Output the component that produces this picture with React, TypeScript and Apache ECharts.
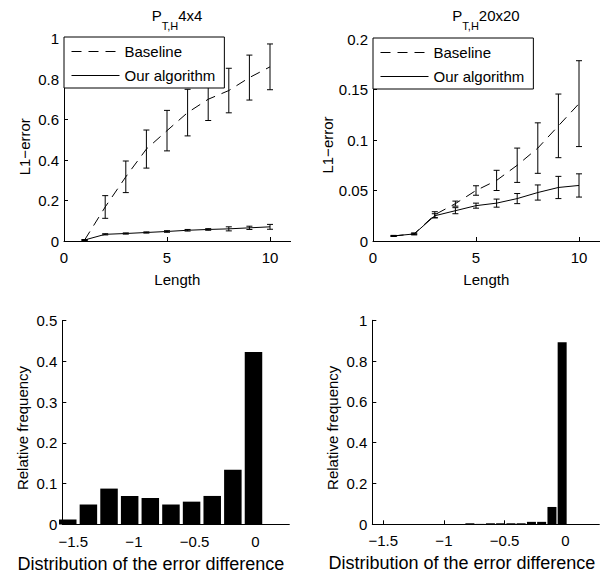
import React, { useEffect, useRef } from 'react';
import * as echarts from 'echarts';

// ---- data ----
const lengths = [1, 2, 3, 4, 5, 6, 7, 8, 9, 10];

const baseline4 = [0.005, 0.168, 0.317, 0.454, 0.545, 0.634, 0.7, 0.743, 0.807, 0.86];
const baseline4Err = [0.002, 0.056, 0.078, 0.094, 0.1, 0.115, 0.105, 0.11, 0.111, 0.113];
const ours4 = [0.005, 0.033, 0.037, 0.042, 0.047, 0.053, 0.057, 0.06, 0.065, 0.07];
const ours4Err = [0.002, 0.003, 0.003, 0.003, 0.004, 0.004, 0.004, 0.01, 0.008, 0.012];

const baseline20 = [0.005, 0.007, 0.026, 0.037, 0.05, 0.06, 0.075, 0.092, 0.114, 0.136];
const baseline20Err = [0.0005, 0.0008, 0.003, 0.0025, 0.0047, 0.01, 0.017, 0.025, 0.0315, 0.0425];
const ours20 = [0.005, 0.007, 0.025, 0.03, 0.035, 0.0375, 0.042, 0.048, 0.053, 0.055];
const ours20Err = [0.0005, 0.0008, 0.002, 0.003, 0.0025, 0.004, 0.005, 0.0075, 0.011, 0.0115];

const bins4 = [-1.545, -1.375, -1.205, -1.035, -0.865, -0.695, -0.525, -0.355, -0.185, -0.015];
const freq4 = [0.012, 0.049, 0.088, 0.07, 0.065, 0.049, 0.056, 0.07, 0.134, 0.423];

const bins20 = [-0.786, -0.702, -0.617, -0.533, -0.448, -0.364, -0.279, -0.195, -0.11, -0.026];
const freq20 = [0.005, 0.002, 0.005, 0.005, 0.005, 0.005, 0.012, 0.012, 0.085, 0.892];

const lengthTicks = [0, 5, 10];
const diffTicks = [-1.5, -1, -0.5, 0];

const FONT = 'Liberation Sans, Arial, Helvetica, sans-serif';
const BLACK = '#000';

const pairs = (xs: number[], ys: number[]) => xs.map((x, i) => [x, ys[i]]);
const errData = (xs: number[], ys: number[], es: number[]) =>
  xs.map((x, i) => [x, ys[i] - es[i], ys[i] + es[i]]);

const errRender = (params: any, api: any) => {
  const x = api.value(0);
  const lo = api.coord([x, api.value(1)]);
  const hi = api.coord([x, api.value(2)]);
  const c = 3;
  const style = { stroke: BLACK, lineWidth: 1, fill: 'none' };
  return {
    type: 'group',
    children: [
      { type: 'line', shape: { x1: lo[0], y1: lo[1], x2: hi[0], y2: hi[1] }, style },
      { type: 'line', shape: { x1: lo[0] - c, y1: lo[1], x2: lo[0] + c, y2: lo[1] }, style },
      { type: 'line', shape: { x1: hi[0] - c, y1: hi[1], x2: hi[0] + c, y2: hi[1] }, style },
    ],
  };
};

const minusFmt = (v: number) => (v < 0 ? '\u2212' + String(Math.abs(v)) : String(v));

const labelStyle = { color: BLACK, fontFamily: FONT, fontSize: 15 };
const nameStyle = { color: BLACK, fontFamily: FONT, fontSize: 15 };

function lenXAxis(grid: number) {
  return {
    type: 'value', gridIndex: grid, min: 0, max: 11,
    name: 'Length', nameLocation: 'middle', nameGap: 31,
    nameTextStyle: { ...nameStyle },
    axisLine: { onZero: false, lineStyle: { color: BLACK, width: 1 } },
    axisTick: { inside: true, length: 4, lineStyle: { color: BLACK }, customValues: lengthTicks },
    axisLabel: { ...labelStyle, margin: 9, customValues: lengthTicks },
    splitLine: { show: false },
  };
}

function diffXAxis(grid: number, shift: number) {
  return {
    type: 'value', gridIndex: grid, min: -1.59, max: 0.28,
    name: 'Distribution of the error difference', nameLocation: 'middle', nameGap: 30,
    nameTextStyle: { ...nameStyle, fontSize: 18, padding: [0, shift, 0, 0] },
    axisLine: { onZero: false, lineStyle: { color: BLACK, width: 1 } },
    axisTick: { inside: true, length: 4, lineStyle: { color: BLACK }, customValues: diffTicks },
    axisLabel: { ...labelStyle, margin: 9, customValues: diffTicks, formatter: minusFmt },
    splitLine: { show: false },
  };
}

function yAxis(grid: number, max: number, interval: number, name: string, shift: number) {
  return {
    type: 'value', gridIndex: grid, min: 0, max, interval,
    name, nameLocation: 'middle', nameGap: 32,
    nameTextStyle: { ...nameStyle, padding: [0, shift, 0, 0] },
    axisLine: { show: true, onZero: false, lineStyle: { color: BLACK, width: 1 } },
    axisTick: { show: true, inside: true, length: 4, lineStyle: { color: BLACK } },
    axisLabel: { ...labelStyle, margin: 5 },
    splitLine: { show: false },
  };
}

function lineSeries(name: string, xi: number, ys: number[], dashed: boolean) {
  return {
    type: 'line', name, xAxisIndex: xi, yAxisIndex: xi,
    data: pairs(lengths, ys), symbol: 'none',
    lineStyle: { color: BLACK, width: 1, type: dashed ? [10, 7] : 'solid' },
    itemStyle: { color: BLACK },
    z: 3,
  };
}

function errSeries(xi: number, ys: number[], es: number[]) {
  return {
    type: 'custom', xAxisIndex: xi, yAxisIndex: xi,
    data: errData(lengths, ys, es), renderItem: errRender,
    encode: { x: 0, y: [1, 2] }, z: 3, silent: true,
  };
}

function legend(left: number, top: number) {
  return {
    show: true, orient: 'vertical', left, top,
    backgroundColor: '#fff', borderColor: BLACK, borderWidth: 1, borderRadius: 0,
    padding: [7, 9, 5, 7], itemGap: 9, itemWidth: 48, itemHeight: 17,
    textStyle: { color: BLACK, fontFamily: FONT, fontSize: 15 },
    itemStyle: { color: 'rgba(0,0,0,0)', borderWidth: 0, opacity: 0 },
    lineStyle: { width: 1, color: BLACK },
    data: ['Baseline', 'Our algorithm'],
    selectedMode: false, z: 10,
  };
}

function title(cx: number, suffix: string) {
  return {
    type: 'text', x: cx, y: 7.5, z: 10,
    style: {
      text: '{p|P}{s|T,H}{p|' + suffix + '}',
      align: 'center', verticalAlign: 'top',
      rich: {
        p: { fontFamily: FONT, fontSize: 15, fill: BLACK, color: BLACK, lineHeight: 16, verticalAlign: 'top' },
        s: { fontFamily: FONT, fontSize: 11, fill: BLACK, color: BLACK, lineHeight: 36 },
      },
    },
  };
}

export default function App() {
  const ref = useRef<HTMLDivElement>(null);
  useEffect(() => {
    if (!ref.current) return;
    const chart = echarts.init(ref.current, null, { renderer: 'svg' });
    chart.setOption({
      animation: false,
      backgroundColor: '#fff',
      textStyle: { fontFamily: FONT },
      grid: [
        { left: 64, top: 38.5, width: 226.6, height: 202.5, outerBoundsMode: 'none' },
        { left: 373, top: 39, width: 226.6, height: 202, outerBoundsMode: 'none' },
        { left: 62.3, top: 320.5, width: 227, height: 204, outerBoundsMode: 'none' },
        { left: 372.3, top: 320.3, width: 227, height: 204, outerBoundsMode: 'none' },
      ],
      xAxis: [lenXAxis(0), lenXAxis(1), diffXAxis(2, 50), diffXAxis(3, 48)],
      yAxis: [
        yAxis(0, 1, 0.2, 'L1\u2212error', 14),
        yAxis(1, 0.2, 0.05, 'L1\u2212error', 10),
        yAxis(2, 0.5, 0.1, 'Relative frequency', 11),
        yAxis(3, 1, 0.2, 'Relative frequency', 11),
      ],
      legend: [legend(64, 37), legend(373, 38)],
      graphic: [title(177, '4x4'), title(486, '20x20')],
      series: [
        lineSeries('Baseline', 0, baseline4, true),
        lineSeries('Our algorithm', 0, ours4, false),
        errSeries(0, baseline4, baseline4Err),
        errSeries(0, ours4, ours4Err),
        lineSeries('Baseline', 1, baseline20, true),
        lineSeries('Our algorithm', 1, ours20, false),
        errSeries(1, baseline20, baseline20Err),
        errSeries(1, ours20, ours20Err),
        {
          type: 'bar', xAxisIndex: 2, yAxisIndex: 2, data: pairs(bins4, freq4),
          barWidth: 17.5, itemStyle: { color: BLACK }, clip: true,
        },
        {
          type: 'bar', xAxisIndex: 3, yAxisIndex: 3, data: pairs(bins20, freq20),
          barWidth: 9, itemStyle: { color: BLACK }, clip: true,
        },
      ],
    });
    return () => chart.dispose();
  }, []);
  return (
    <div
      ref={ref}
      style={{ position: 'absolute', left: 0, top: 0, width: 608, height: 572, background: '#fff' }}
    />
  );
}
